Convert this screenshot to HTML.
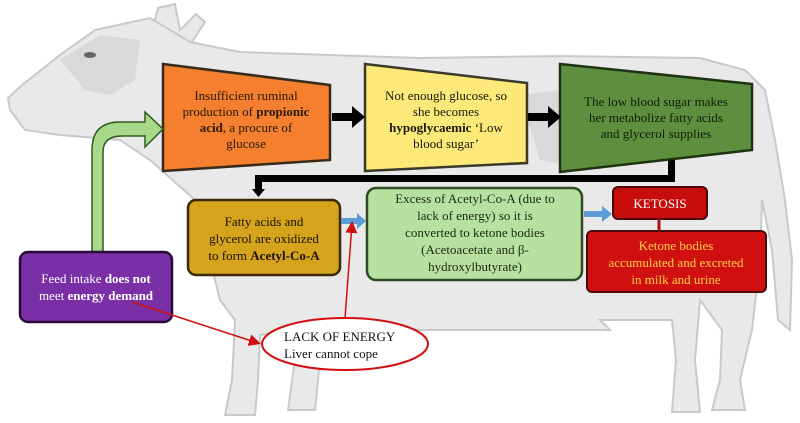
<!DOCTYPE html>
<html><head><meta charset="utf-8"><style>
html,body{margin:0;padding:0;background:#fff;}
svg{display:block;}
text{font-family:"Liberation Serif",serif;font-size:13px;}
</style></head><body>
<svg width="800" height="423" viewBox="0 0 800 423" xmlns="http://www.w3.org/2000/svg">
<defs>
<marker id="ra" markerWidth="8" markerHeight="8" refX="6" refY="4" orient="auto"><path d="M0,0 L8,4 L0,8 z" fill="#d01010"/></marker>
</defs>
<!-- cow -->
<g fill="#e9e9e9" stroke="#c9c9c9" stroke-width="2">
<path d="M150,38 L158,8 L175,4 L180,30 L196,14 L205,22 L190,45 Z"/>
<path d="M10,110 L8,98 L22,85 L60,55 L95,30 L150,18 L190,42 L240,52 L420,58 L560,56 L700,58 L745,70 L765,90 L775,140 L785,200 L792,260 L790,330 L778,320 L772,250 L762,200 L760,260 L752,330 L740,380 L745,410 L712,410 L720,380 L722,330 L700,300 L695,360 L700,412 L672,412 L676,360 L672,320 L600,320 L610,330 L580,330 L330,330 L320,360 L315,410 L288,410 L295,360 L290,330 L260,335 L258,380 L255,415 L225,415 L232,380 L235,320 L220,300 L195,200 L150,160 L120,140 L60,135 L25,130 Z"/>
</g>
<g fill="#d9d9d9" stroke="none">
<path d="M60,60 L100,35 L140,40 L135,80 L110,95 L85,90 Z"/>
<path d="M520,95 L600,85 L640,130 L600,170 L540,160 Z"/>
</g>
<ellipse cx="90" cy="55" rx="6" ry="3" fill="#666"/>
<!-- trapezoids -->
<polygon points="163,64 330,85 330,160 163,171" fill="#f47f2e" stroke="#3a2a1a" stroke-width="2.5"/>
<polygon points="365,64 527,83 527,163 365,171" fill="#fde97a" stroke="#3a3a2a" stroke-width="2.5"/>
<polygon points="560,64 752,84 752,150 560,172" fill="#5e8f3e" stroke="#1f3312" stroke-width="2.5"/>
<!-- black arrows -->
<path d="M332,113 L352,113 L352,106 L365,117 L352,128 L352,121 L332,121 Z" fill="#000"/>
<path d="M528,113 L548,113 L548,106 L561,117 L548,128 L548,121 L528,121 Z" fill="#000"/>
<path d="M668,160 L675,160 L675,182 L262,182 L262,190 L255,190 L255,175 L668,175 Z" fill="#000"/>
<path d="M252,189 L265,189 L258.5,197 Z" fill="#000"/>
<!-- green arrow -->
<path d="M92,252 L92,150 Q92,122 120,122 L145,122 L145,112 L163,129 L145,147 L145,136 L122,136 Q103,136 103,152 L103,252 Z" fill="#a8d98a" stroke="#2f5a1f" stroke-width="1.5"/>
<!-- boxes -->
<rect x="188" y="200" width="152" height="75" rx="8" fill="#d6a31c" stroke="#3a2a0a" stroke-width="2.5"/>
<rect x="367" y="188" width="215" height="92" rx="9" fill="#b7e1a0" stroke="#2f4a22" stroke-width="2.5"/>
<rect x="613" y="187" width="94" height="32" rx="5" fill="#c70c0c" stroke="#4a0a0a" stroke-width="2"/>
<line x1="659" y1="219" x2="659" y2="231" stroke="#b01010" stroke-width="3"/>
<rect x="587" y="231" width="179" height="61" rx="5" fill="#d01010" stroke="#4a0a0a" stroke-width="2"/>
<rect x="20" y="252" width="152" height="70" rx="8" fill="#7b2fa6" stroke="#2a0a3a" stroke-width="2.5"/>
<!-- blue arrows -->
<path d="M341,218 L357,218 L357,213 L366,221 L357,229 L357,224 L341,224 Z" fill="#5a9bd8"/>
<path d="M584,211 L602,211 L602,206 L612,214 L602,222 L602,217 L584,217 Z" fill="#5a9bd8"/>
<!-- ellipse & red lines -->
<ellipse cx="345" cy="344" rx="83" ry="26" fill="#fff" stroke="#d01010" stroke-width="2"/>
<line x1="345" y1="318" x2="352" y2="224" stroke="#d01010" stroke-width="1.5" marker-end="url(#ra)"/>
<line x1="132" y1="302" x2="258" y2="343" stroke="#d01010" stroke-width="1.5" marker-end="url(#ra)"/>
<!-- text -->
<g text-anchor="middle" fill="#2a1a0a">
<text x="246" y="100">Insufficient ruminal</text>
<text x="246" y="116">production of <tspan font-weight="bold">propionic</tspan></text>
<text x="246" y="132"><tspan font-weight="bold">acid</tspan>, a procure of</text>
<text x="246" y="148">glucose</text>
</g>
<g text-anchor="middle" fill="#1a1a0a">
<text x="446" y="100">Not enough glucose, so</text>
<text x="446" y="116">she becomes</text>
<text x="446" y="132"><tspan font-weight="bold">hypoglycaemic</tspan> ‘Low</text>
<text x="446" y="148">blood sugar’</text>
</g>
<g text-anchor="middle" fill="#0f1f08">
<text x="656" y="106">The low blood sugar makes</text>
<text x="656" y="122">her metabolize fatty acids</text>
<text x="656" y="138">and glycerol supplies</text>
</g>
<g text-anchor="middle" fill="#1a1205">
<text x="264" y="226">Fatty acids and</text>
<text x="264" y="243">glycerol are oxidized</text>
<text x="264" y="260">to form <tspan font-weight="bold">Acetyl-Co-A</tspan></text>
</g>
<g text-anchor="middle" fill="#1a2a12">
<text x="475" y="203">Excess of Acetyl-Co-A (due to</text>
<text x="475" y="220">lack of energy) so it is</text>
<text x="475" y="237">converted to ketone bodies</text>
<text x="475" y="254">(Acetoacetate and β-</text>
<text x="475" y="271">hydroxylbutyrate)</text>
</g>
<text x="660" y="208" text-anchor="middle" fill="#fff">KETOSIS</text>
<g text-anchor="middle" fill="#ffd040">
<text x="676" y="250">Ketone bodies</text>
<text x="676" y="267">accumulated and excreted</text>
<text x="676" y="284">in milk and urine</text>
</g>
<g text-anchor="middle" fill="#fff">
<text x="96" y="283">Feed intake <tspan font-weight="bold">does not</tspan></text>
<text x="96" y="300">meet <tspan font-weight="bold">energy demand</tspan></text>
</g>
<g fill="#111">
<text x="284" y="341">LACK OF ENERGY</text>
<text x="284" y="358">Liver cannot cope</text>
</g>
</svg>
</body></html>
